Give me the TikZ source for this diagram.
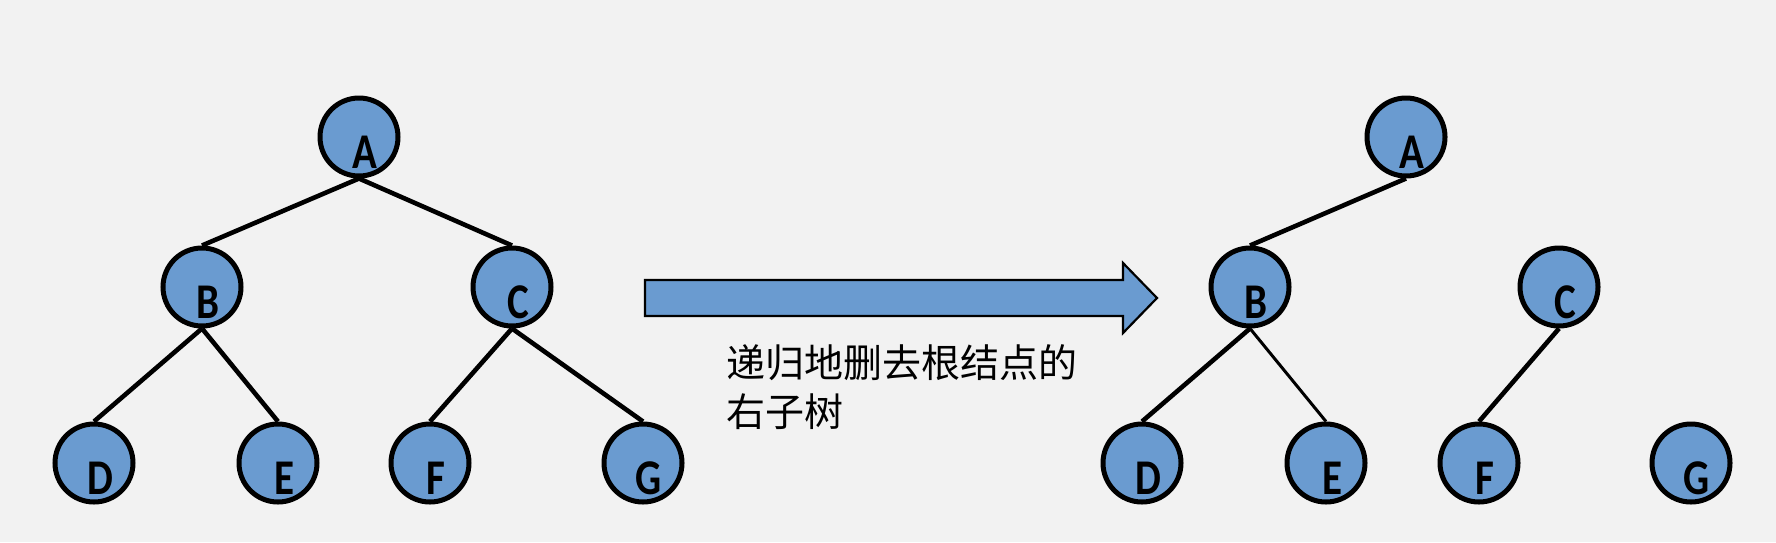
\documentclass[tikz,border=0pt]{standalone}
\usepackage{fontspec}
\setmainfont{Carlito}
\newfontfamily\cjk{Noto Sans CJK SC}
\definecolor{bg}{HTML}{F2F2F2}
\definecolor{nodeblue}{HTML}{6A9BD0}
\begin{document}
\begin{tikzpicture}[x=1pt,y=-1pt,
  circ/.style={circle,draw=black,line width=5pt,fill=nodeblue,minimum size=78pt,inner sep=0pt},
  lab/.style={inner sep=0pt,font=\bfseries\fontsize{50}{50}\selectfont,xscale=0.82,transform shape},
  edge/.style={line width=4.6pt},
  thinedge/.style={line width=3pt}]
\fill[bg] (0,0) rectangle (1776,542);
\useasboundingbox (0,0) rectangle (1776,542);
% left tree
\node[circ] (A) at (359,137) {};
\node[circ] (B) at (202,287) {};
\node[circ] (C) at (512,287) {};
\node[circ] (D) at (94,463) {};
\node[circ] (E) at (278,463) {};
\node[circ] (F) at (430,463) {};
\node[circ] (G) at (643,463) {};
\foreach \n in {A,B,C,D,E,F,G}
  \node[lab] (l\n) at ([xshift=6pt,yshift=-15pt]\n.center) {\n};
\draw[edge] (A.south) -- (B.north);
\draw[edge] (A.south) -- (C.north);
\draw[edge] (B.south) -- (D.north);
\draw[edge] (B.south) -- (E.north);
\draw[edge] (C.south) -- (F.north);
\draw[edge] (C.south) -- (G.north);
% arrow
\draw[fill=nodeblue,line width=2.2pt,line join=miter]
  (645,280) -- (1123,280) -- (1123,263) -- (1157,298) -- (1123,333) -- (1123,316) -- (645,316) -- cycle;
\node[anchor=north west,inner sep=0pt,align=left,font=\cjk\fontsize{39}{49}\selectfont] (txt) at (726,344)
  {递归地删去根结点的\\右子树};
% right tree
\node[circ] (A2) at (1406,137) {};
\node[circ] (B2) at (1250,287) {};
\node[circ] (C2) at (1559,287) {};
\node[circ] (D2) at (1142,463) {};
\node[circ] (E2) at (1326,463) {};
\node[circ] (F2) at (1479,463) {};
\node[circ] (G2) at (1691,463) {};
\foreach \n in {A,B,C,D,E,F,G}
  \node[lab] (l\n2) at ([xshift=6pt,yshift=-15pt]\n2.center) {\n};
\draw[edge] (A2.south) -- (B2.north);
\draw[edge] (B2.south) -- (D2.north);
\draw[thinedge] (B2.south) -- (E2.north);
\draw[edge] (C2.south) -- (F2.north);
\end{tikzpicture}
\end{document}
